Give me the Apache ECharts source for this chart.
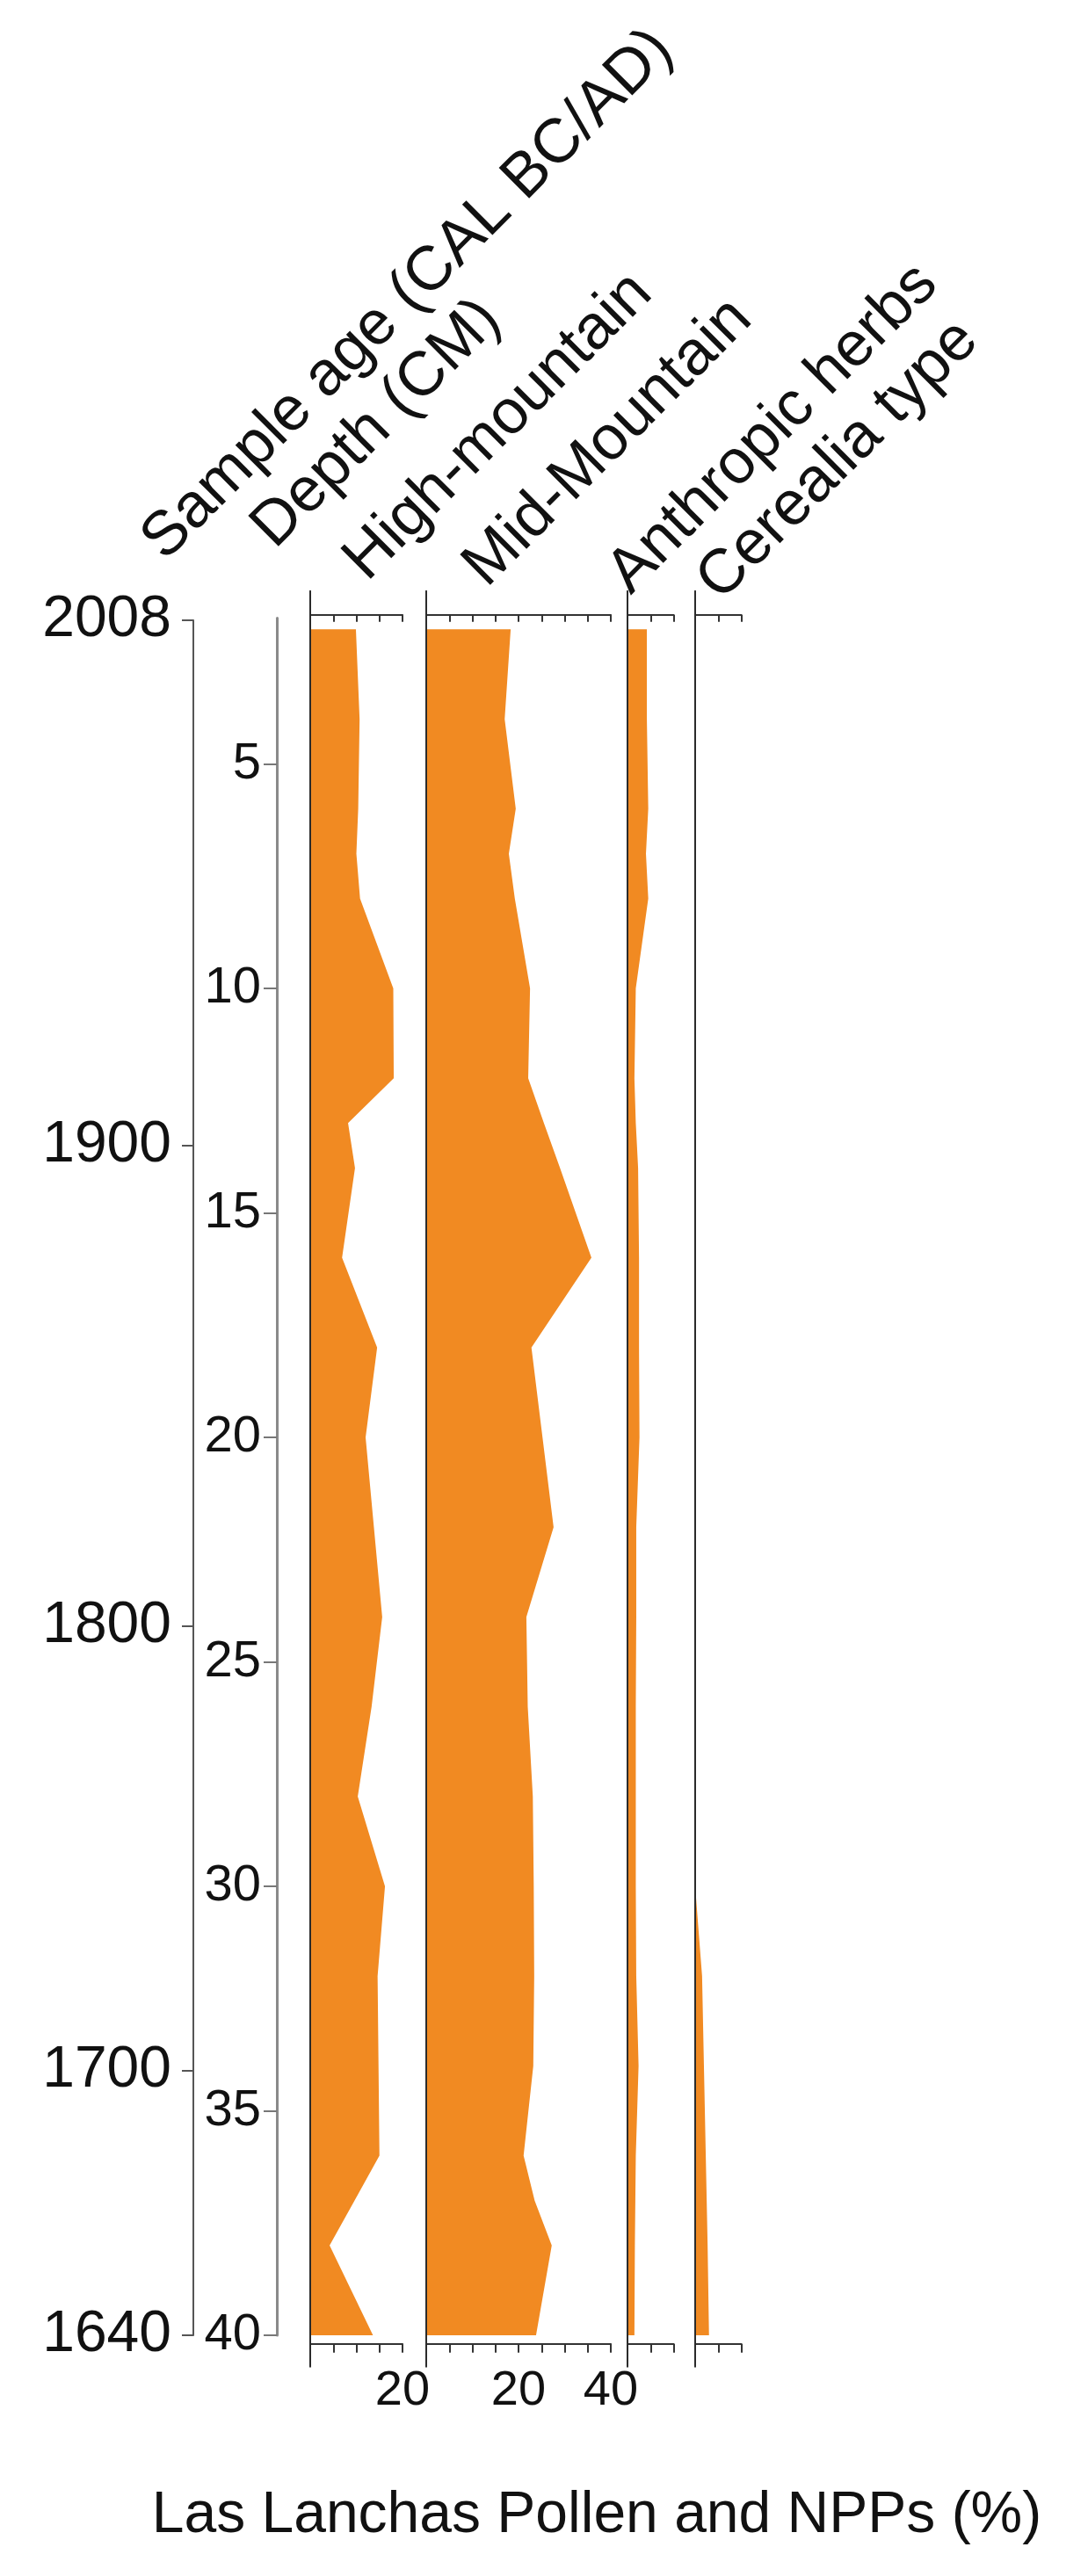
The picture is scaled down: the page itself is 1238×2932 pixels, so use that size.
<!DOCTYPE html>
<html>
<head>
<meta charset="utf-8">
<title>Las Lanchas Pollen and NPPs</title>
<script src="https://cdn.jsdelivr.net/npm/echarts@6/dist/echarts.min.js"></script>
<style>
  html, body { margin: 0; padding: 0; background: #ffffff; }
  #main { width: 1238px; height: 2932px; }
</style>
</head>
<body>
<div id="main"></div>
<script>
// sample depths (cm) shared by all taxa
const depths = [2, 4, 6, 7, 8, 10, 12, 13, 14, 16, 18, 20, 22, 24, 26, 28, 30, 32, 34, 36, 37, 38, 40];
// percentages per taxon group
const highMountain = [9.9, 10.7, 10.4, 10.0, 10.8, 18.0, 18.1, 8.2, 9.7, 6.9, 14.5, 12.0, 13.8, 15.6, 13.3, 10.3, 16.2, 14.6, 14.8, 15.0, 9.6, 4.2, 13.6];
const midMountain = [18.3, 17.0, 19.4, 17.9, 19.2, 22.5, 22.1, 25.5, 29.0, 35.8, 22.8, 25.2, 27.6, 21.7, 22.0, 23.1, 23.3, 23.4, 23.2, 21.1, 23.5, 27.2, 23.8];
const anthropicHerbs = [4.2, 4.2, 4.5, 4.0, 4.5, 1.8, 1.5, 1.8, 2.3, 2.5, 2.5, 2.6, 1.9, 1.9, 1.8, 1.8, 1.8, 1.9, 2.4, 1.8, 1.7, 1.6, 1.5];
const cerealiaType = [0, 0, 0, 0, 0, 0, 0, 0, 0, 0, 0, 0, 0, 0, 0, 0, 0, 1.5, 1.9, 2.3, 2.5, 2.7, 3.0];

// age-depth tie points for the left axis
const ageLabels = [2008, 1900, 1800, 1700, 1640];
const ageDepths = [1.8, 13.5, 24.2, 34.1, 40];
const depthTicks = [5, 10, 15, 20, 25, 30, 35, 40];

const panelNames = ['High-mountain', 'Mid-Mountain', 'Anthropic herbs', 'Cerealia type'];
const panelValues = [highMountain, midMountain, anthropicHerbs, cerealiaType];
const panelMax = [20, 40, 10, 10];

// layout
const FONT = "'Liberation Sans', Arial, sans-serif";
const ORANGE = '#F18A22';
const Y0 = 614;       // pixel of depth 0
const K = 51.1;       // pixels per cm
const PX_PER_PCT = 5.25;
const yOf = d => Y0 + K * d;
const panelLeft = [353, 485, 714, 791];
const PANEL_TOP_D = 1.15, PANEL_BOT_D = 40.7;

// rotated column headings, anchored at their left-middle point
const headers = [
  { text: 'Sample age (CAL BC/AD)', x: 174, y: 626 },
  { text: 'Depth (CM)', x: 299, y: 612 },
  { text: 'High-mountain', x: 404, y: 649 },
  { text: 'Mid-Mountain', x: 540, y: 656 },
  { text: 'Anthropic herbs', x: 704, y: 664 },
  { text: 'Cerealia type', x: 806, y: 672 }
];

const chart = echarts.init(document.getElementById('main'));

const grid = [
  { left: 220, top: yOf(ageDepths[0]), width: 1, height: yOf(40) - yOf(ageDepths[0]) },
  { left: 315, top: yOf(1.75), width: 1, height: yOf(40) - yOf(1.75) }
];
const xAxis = [
  { gridIndex: 0, type: 'value', show: false },
  { gridIndex: 1, type: 'value', show: false }
];
const yAxis = [
  {
    gridIndex: 0, type: 'value', inverse: true, min: ageDepths[0], max: 40,
    splitLine: { show: false },
    axisLine: { show: true, lineStyle: { color: '#555', width: 2 } },
    axisTick: { show: true, length: 13, customValues: ageDepths, lineStyle: { color: '#555', width: 2 } },
    axisLabel: {
      customValues: ageDepths, margin: 25, fontSize: 66, color: '#111', fontFamily: FONT,
      formatter: v => {
        const i = ageDepths.findIndex(d => Math.abs(d - v) < 0.01);
        return i >= 0 ? String(ageLabels[i]) : '';
      }
    }
  },
  {
    gridIndex: 1, type: 'value', inverse: true, min: 1.75, max: 40,
    splitLine: { show: false },
    axisLine: { show: true, lineStyle: { color: '#8a8a8a', width: 3 } },
    axisTick: { show: true, length: 15, customValues: depthTicks, lineStyle: { color: '#777', width: 2 } },
    axisLabel: { customValues: depthTicks, margin: 18, fontSize: 58, color: '#111', fontFamily: FONT }
  }
];
const series = [];

panelValues.forEach((vals, p) => {
  const gi = grid.length;
  grid.push({
    left: panelLeft[p], width: panelMax[p] * PX_PER_PCT,
    top: yOf(PANEL_TOP_D), height: yOf(PANEL_BOT_D) - yOf(PANEL_TOP_D)
  });
  const bottomIdx = xAxis.length;
  xAxis.push({
    gridIndex: gi, type: 'value', position: 'bottom', min: 0, max: panelMax[p], interval: 5,
    offset: -26, splitLine: { show: false },
    axisLine: { show: true, lineStyle: { color: '#333', width: 2 } },
    axisTick: { show: true, length: 10, lineStyle: { color: '#333', width: 2 } },
    axisLabel: {
      margin: 26, fontSize: 56, color: '#111', fontFamily: FONT,
      showMinLabel: true, showMaxLabel: true,
      formatter: v => (v > 0 && v % 20 === 0 ? String(v) : '')
    }
  });
  xAxis.push({
    gridIndex: gi, type: 'value', position: 'top', min: 0, max: panelMax[p], interval: 5,
    offset: -27, splitLine: { show: false },
    axisLine: { show: true, lineStyle: { color: '#333', width: 2 } },
    axisTick: { show: true, inside: true, length: 8, lineStyle: { color: '#333', width: 2 } },
    axisLabel: { show: false }
  });
  const yi = yAxis.length;
  yAxis.push({
    gridIndex: gi, type: 'value', inverse: true, min: PANEL_TOP_D, max: PANEL_BOT_D, z: 10,
    splitLine: { show: false },
    axisLine: { show: true, onZero: false, lineStyle: { color: '#2b2b2b', width: 2 } },
    axisTick: { show: false },
    axisLabel: { show: false }
  });
  series.push({
    name: panelNames[p],
    type: 'custom',
    xAxisIndex: bottomIdx,
    yAxisIndex: yi,
    silent: true,
    data: depths.map((d, i) => [vals[i], d]),
    renderItem: (params, api) => {
      if (params.dataIndex !== 0) return null;
      const pts = [api.coord([0, depths[0]])];
      depths.forEach((d, i) => pts.push(api.coord([vals[i], d])));
      pts.push(api.coord([0, depths[depths.length - 1]]));
      return { type: 'polygon', shape: { points: pts }, style: { fill: ORANGE } };
    }
  });
});

const graphic = headers.map(h => ({
  type: 'text',
  x: h.x, y: h.y,
  rotation: Math.PI / 4,
  style: {
    text: h.text, fontSize: 71, fontFamily: FONT, fill: '#111',
    textAlign: 'left', textVerticalAlign: 'middle'
  }
}));
graphic.push({
  type: 'text', x: 679, y: 2864,
  style: {
    text: 'Las Lanchas Pollen and NPPs (%)', fontSize: 66, fontFamily: FONT, fill: '#111',
    textAlign: 'center', textVerticalAlign: 'middle'
  }
});

chart.setOption({
  animation: false,
  backgroundColor: '#ffffff',
  grid, xAxis, yAxis, series, graphic
});
</script>
</body>
</html>
